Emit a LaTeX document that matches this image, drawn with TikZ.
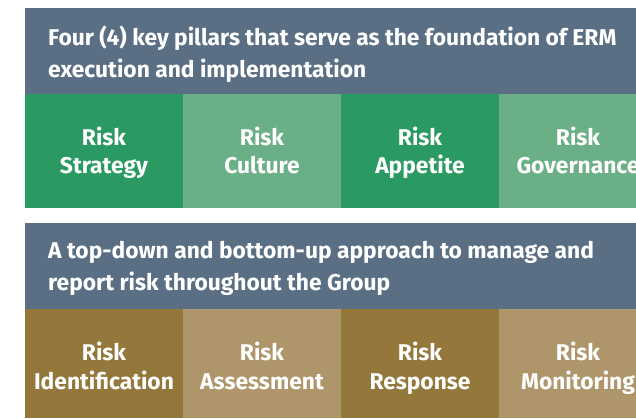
\documentclass[tikz,border=0pt]{standalone}
\usepackage{fontspec}
\setmainfont{Fira Sans}
\definecolor{hdr}{HTML}{5A6F84}
\definecolor{gdark}{HTML}{2A9A62}
\definecolor{glight}{HTML}{6AAF85}
\definecolor{bdark}{HTML}{94773A}
\definecolor{blight}{HTML}{AE966A}
\begin{document}
\begin{tikzpicture}[x=1pt,y=-1pt,
  hdrtext/.style={anchor=base west,text=white,font=\fontsize{22.8}{32}\selectfont\bfseries,inner sep=0pt,align=left},
  celltext/.style={anchor=base,text=white,font=\fontsize{22.8}{29}\selectfont\bfseries,inner sep=0pt,align=center}]
\useasboundingbox (0,0) rectangle (636,418);
\fill[white] (0,0) rectangle (636,418);
% top panel
\fill[hdr] (25,8) rectangle (636,94);
\fill[gdark] (25,94) rectangle (183,207.5);
\fill[glight] (183,94) rectangle (341,207.5);
\fill[gdark] (341,94) rectangle (499,207.5);
\fill[glight] (499,94) rectangle (657,207.5);
\node[hdrtext] (h1a) at (48,45) {Four (4) key pillars that serve as the foundation of ERM};
\node[hdrtext] (h1b) at (48,77) {execution and implementation};
\node[celltext] (c1a) at (104,145) {Risk};
\node[celltext] (c1b) at (104,173) {Strategy};
\node[celltext] (c2a) at (262,145) {Risk};
\node[celltext] (c2b) at (262,173) {Culture};
\node[celltext] (c3a) at (420,145) {Risk};
\node[celltext] (c3b) at (420,173) {Appetite};
\node[celltext] (c4a) at (578,145) {Risk};
\node[celltext] (c4b) at (578,173) {Governance};
% bottom panel
\fill[hdr] (25,223) rectangle (636,309);
\fill[bdark] (25,309) rectangle (183,418);
\fill[blight] (183,309) rectangle (341,418);
\fill[bdark] (341,309) rectangle (499,418);
\fill[blight] (499,309) rectangle (657,418);
\node[hdrtext] (h2a) at (48,258) {A top-down and bottom-up approach to manage and};
\node[hdrtext] (h2b) at (48,290) {report risk throughout the Group};
\node[celltext] (d1a) at (104,360) {Risk};
\node[celltext] (d1b) at (104,389) {Identification};
\node[celltext] (d2a) at (262,360) {Risk};
\node[celltext] (d2b) at (262,389) {Assessment};
\node[celltext] (d3a) at (420,360) {Risk};
\node[celltext] (d3b) at (420,389) {Response};
\node[celltext] (d4a) at (578,360) {Risk};
\node[celltext] (d4b) at (578,389) {Monitoring};
\end{tikzpicture}
\end{document}
